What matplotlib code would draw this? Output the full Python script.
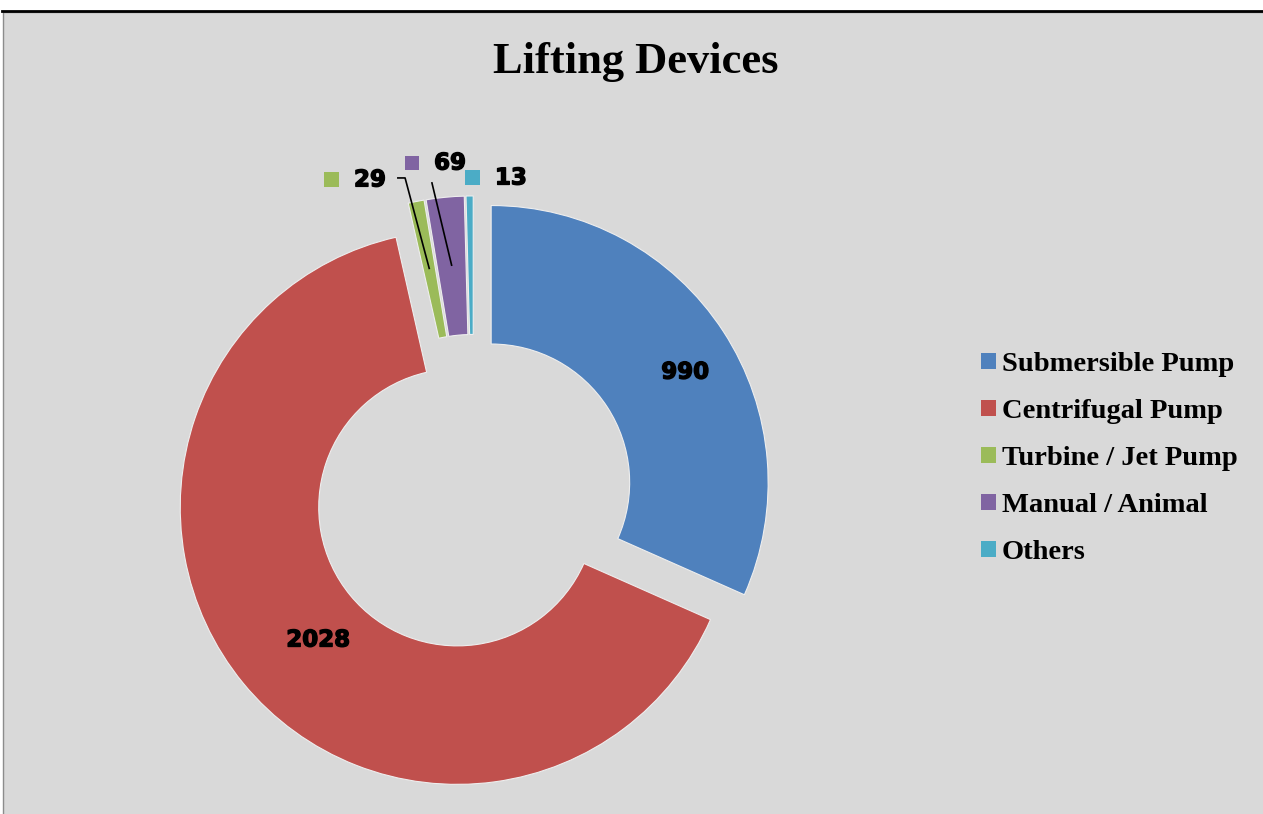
import numpy as np
import matplotlib.pyplot as plt
import matplotlib.patheffects as pe
from matplotlib.patches import Rectangle, Patch
from matplotlib.lines import Line2D

categories = ['Submersible Pump', 'Centrifugal Pump', 'Turbine / Jet Pump', 'Manual / Animal', 'Others']
values = [990, 2028, 29, 69, 13]
colors = ['#4F81BD', '#C0504D', '#9BBB59', '#8064A2', '#4BACC6']

W, H = 1263, 814
fig = plt.figure(figsize=(W / 100, H / 100), dpi=100)
fig.patch.set_facecolor('white')

# grey chart area with a black rule on top
fig.add_artist(Rectangle((3 / W, -0.1), 1.1, 1.1 - 12 / H, transform=fig.transFigure,
                         facecolor='#D9D9D9', edgecolor='#8c8c8c', linewidth=1, zorder=0))
fig.add_artist(Line2D([2 / W, 1], [1 - 11 / H, 1 - 11 / H], transform=fig.transFigure,
                      color='black', linewidth=2))

# pie centre at (473.5, 494) px, radius 277 px
cx, cy, R = 473.5, 494, 277
ax = fig.add_axes([0, 0, 1, 1])
wedges, _ = ax.pie(values, colors=colors, startangle=90, counterclock=False,
                   explode=[0.076] * len(values), radius=1,
                   wedgeprops=dict(width=0.5, edgecolor='#eeeeee', linewidth=0.8))
ax.set_xlim(-cx / R, (W - cx) / R)
ax.set_ylim(-(H - cy) / R, cy / R)
ax.set_aspect('auto')
ax.axis('off')
ax.patch.set_alpha(0)

total = sum(values)
ang = 90.0
mids = []
for v in values:
    sweep = v / total * 360
    mids.append(ang - sweep / 2)
    ang -= sweep

lab_font = dict(fontsize=16.5, fontweight='bold', family='DejaVu Sans', color='black',
                path_effects=[pe.withStroke(linewidth=1.0, foreground='black')])

# big slices: labels inside the ring
ax.text(0.764, 0.440, str(values[0]), ha='center', va='center', **lab_font)
ax.text(-0.561, -0.527, str(values[1]), ha='center', va='center', **lab_font)

# small slices: labels above with a key square
small = {2: (-0.374, 1.134), 3: (-0.085, 1.195), 4: (0.135, 1.141)}
for i, (tx, ty) in small.items():
    ax.text(tx, ty, str(values[i]), ha='center', va='center', **lab_font)
    ax.add_patch(Rectangle((tx - 0.137 - 0.027, ty - 0.027), 0.054, 0.054,
                           facecolor=colors[i], edgecolor='none', clip_on=False))

# leader lines
a = np.radians(mids[2])
ax.plot([-0.273, -0.247, 0.83 * np.cos(a)], [1.141, 1.141, 0.83 * np.sin(a)],
        color='black', linewidth=1.2)
a = np.radians(mids[3])
ax.plot([-0.150, 0.83 * np.cos(a)], [1.123, 0.83 * np.sin(a)],
        color='black', linewidth=1.2)

fig.text(636 / W, 1 - 73 / H, 'Lifting Devices', ha='center', va='baseline',
         fontsize=32, fontweight='bold', family='Liberation Serif')

handles = [Patch(facecolor=c, edgecolor='none') for c in colors]
leg = fig.legend(handles, categories, loc='upper left', bbox_to_anchor=(970 / W, 1 - 341 / H),
                 frameon=False, handlelength=0.5, handleheight=0.5, handletextpad=0.22,
                 labelspacing=0.77, borderaxespad=0,
                 prop=dict(family='Liberation Serif', weight='bold', size=20.5))

fig.savefig('out.png', dpi=100, facecolor=fig.get_facecolor())
